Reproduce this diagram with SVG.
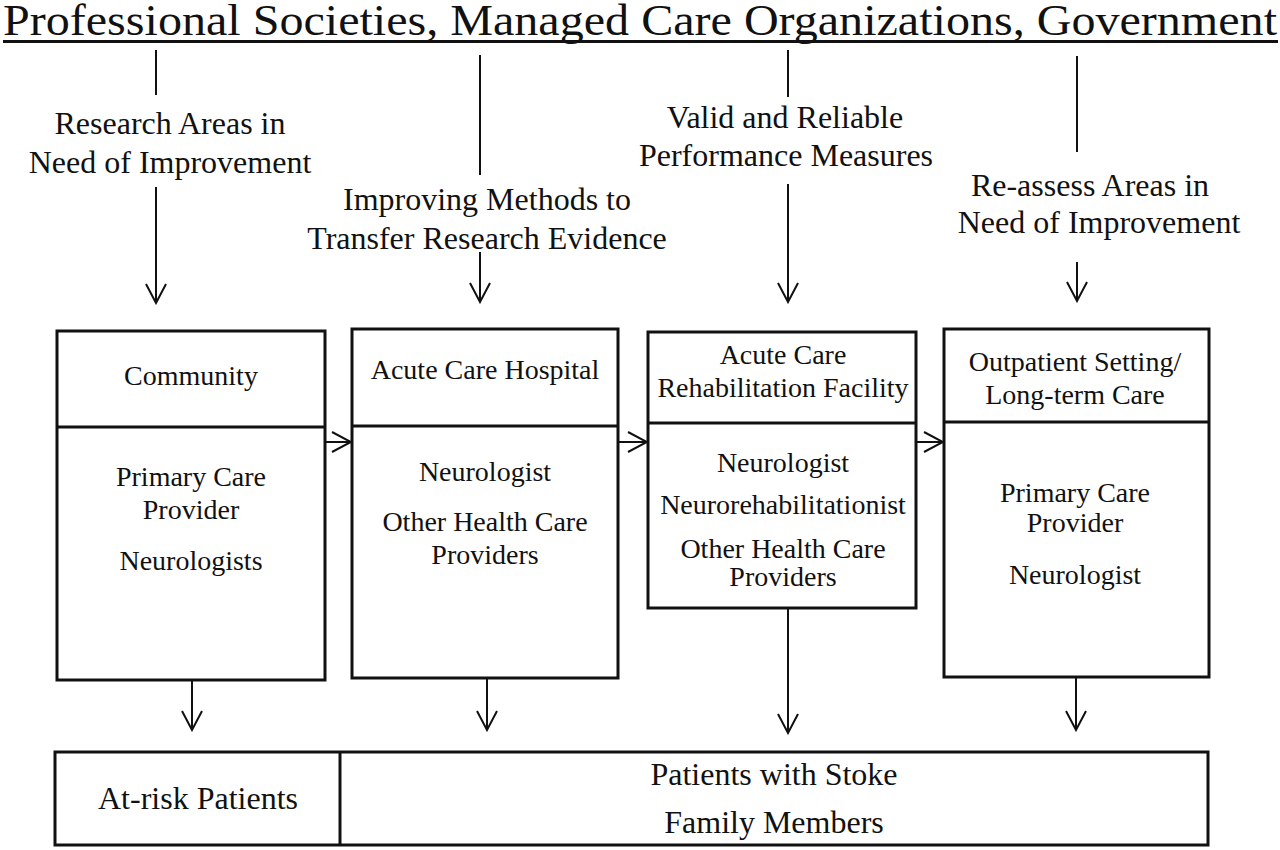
<svg xmlns="http://www.w3.org/2000/svg" width="1280" height="850" viewBox="0 0 1280 850">
<style>
text{font-family:"Liberation Serif","Times New Roman",serif;fill:#111;text-anchor:middle}
.title{font-size:45px}
.lbl{font-size:32px}
.bx{font-size:28px}
.bt{font-size:32px}
.box{fill:#fff;stroke:#111;stroke-width:3}
.div{stroke:#111;stroke-width:3;fill:none}
.ln{stroke:#111;stroke-width:2;fill:none}
.ar{stroke:#111;stroke-width:2;fill:none;marker-end:url(#v)}
</style>
<defs>
<marker id="v" markerUnits="userSpaceOnUse" viewBox="0 0 22 22" refX="20" refY="11" markerWidth="22" markerHeight="22" orient="auto">
<path d="M1,1 L20,11 L1,21" fill="none" stroke="#111" stroke-width="2"/>
</marker>
</defs>
<rect width="1280" height="850" fill="#fff"/>
<g id="title">
<text class="title" x="640" y="35" textLength="1274" lengthAdjust="spacingAndGlyphs">Professional Societies, Managed Care Organizations, Government</text>
<line x1="3" y1="41.5" x2="1278" y2="41.5" stroke="#111" stroke-width="3"/>
</g>
<g id="labels">
<text class="lbl" x="170" y="134">Research Areas in</text>
<text class="lbl" x="170" y="173">Need of Improvement</text>
<text class="lbl" x="487" y="210">Improving Methods to</text>
<text class="lbl" x="487" y="249">Transfer Research Evidence</text>
<text class="lbl" x="785" y="128">Valid and Reliable</text>
<text class="lbl" x="786" y="166">Performance Measures</text>
<text class="lbl" x="1090" y="196">Re-assess Areas in</text>
<text class="lbl" x="1099" y="233">Need of Improvement</text>
</g>
<g id="community">
<rect class="box" x="57" y="331" width="268" height="349"/>
<line class="div" x1="57" y1="427" x2="325" y2="427"/>
<text class="bx" x="191" y="385">Community</text>
<text class="bx" x="191" y="486">Primary Care</text>
<text class="bx" x="191" y="519">Provider</text>
<text class="bx" x="191" y="570">Neurologists</text>
</g>
<g id="hospital">
<rect class="box" x="352" y="329" width="266" height="349"/>
<line class="div" x1="352" y1="426" x2="618" y2="426"/>
<text class="bx" x="485" y="379">Acute Care Hospital</text>
<text class="bx" x="485" y="481">Neurologist</text>
<text class="bx" x="485" y="531">Other Health Care</text>
<text class="bx" x="485" y="564">Providers</text>
</g>
<g id="rehab">
<rect class="box" x="648" y="332" width="268" height="276"/>
<line class="div" x1="648" y1="423" x2="916" y2="423"/>
<text class="bx" x="783" y="364">Acute Care</text>
<text class="bx" x="783" y="397">Rehabilitation Facility</text>
<text class="bx" x="783" y="472">Neurologist</text>
<text class="bx" x="783" y="514">Neurorehabilitationist</text>
<text class="bx" x="783" y="558">Other Health Care</text>
<text class="bx" x="783" y="586">Providers</text>
</g>
<g id="outpatient">
<rect class="box" x="944" y="329" width="265" height="348"/>
<line class="div" x1="944" y1="422" x2="1209" y2="422"/>
<text class="bx" x="1075" y="371">Outpatient Setting/</text>
<text class="bx" x="1075" y="404">Long-term Care</text>
<text class="bx" x="1075" y="502">Primary Care</text>
<text class="bx" x="1075" y="532">Provider</text>
<text class="bx" x="1075" y="584">Neurologist</text>
</g>
<g id="patients">
<rect class="box" x="55" y="752" width="1153" height="93"/>
<line class="div" x1="340" y1="752" x2="340" y2="845"/>
<text class="bt" x="198" y="809">At-risk Patients</text>
<text class="bt" x="774" y="785">Patients with Stoke</text>
<text class="bt" x="774" y="833">Family Members</text>
</g>
<g id="connectors">
<line class="ln" x1="156" y1="50" x2="156" y2="95"/>
<line class="ar" x1="156" y1="187" x2="156" y2="303"/>
<line class="ln" x1="480" y1="55" x2="480" y2="175"/>
<line class="ar" x1="480" y1="252" x2="480" y2="302"/>
<line class="ln" x1="788" y1="50" x2="788" y2="97"/>
<line class="ar" x1="788" y1="184" x2="788" y2="302"/>
<line class="ln" x1="1077" y1="56" x2="1077" y2="152"/>
<line class="ar" x1="1077" y1="262" x2="1077" y2="301"/>
<line class="ar" x1="325" y1="442" x2="351" y2="442"/>
<line class="ar" x1="618" y1="442" x2="647" y2="442"/>
<line class="ar" x1="916" y1="442" x2="943" y2="442"/>
<line class="ar" x1="192" y1="680" x2="192" y2="730"/>
<line class="ar" x1="487" y1="678" x2="487" y2="730"/>
<line class="ar" x1="788" y1="608" x2="788" y2="733"/>
<line class="ar" x1="1076" y1="677" x2="1076" y2="730"/>
</g>
</svg>
